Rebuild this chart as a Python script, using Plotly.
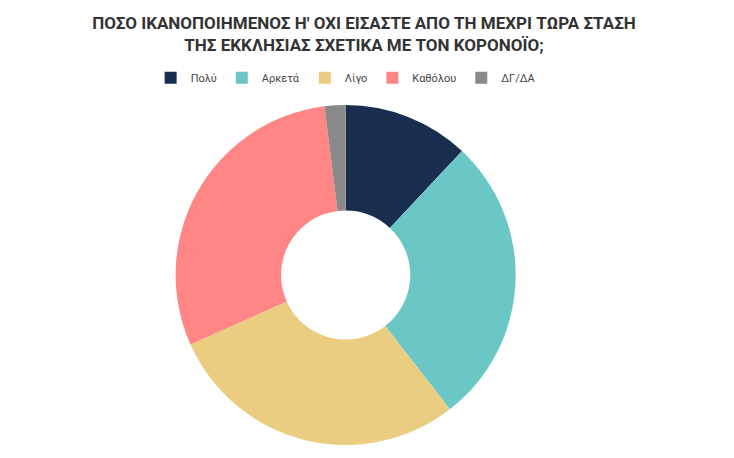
import plotly.graph_objects as go

labels = ["Πολύ", "Αρκετά", "Λίγο", "Καθόλου", "ΔΓ/ΔΑ"]
values = [12, 27.5, 28.8, 29.7, 2]
colors = ["#192d4f", "#6bc7c6", "#ebcd82", "#ff8684", "#8a8a8a"]

fig = go.Figure(go.Pie(
    labels=labels, values=values, hole=0.38, sort=False, direction="clockwise",
    rotation=0, marker=dict(colors=colors), textinfo="none",
    domain=dict(x=[0.0, 0.92], y=[0, 1])
))
fig.update_layout(
    width=734, height=458, paper_bgcolor="white",
    margin=dict(l=0, r=0, t=97, b=21),
    title=dict(text="ΠΟΣΟ ΙΚΑΝΟΠΟΙΗΜΕΝΟΣ Η' ΟΧΙ ΕΙΣΑΣΤΕ ΑΠΟ ΤΗ ΜΕΧΡΙ ΤΩΡΑ ΣΤΑΣΗ<br>ΤΗΣ ΕΚΚΛΗΣΙΑΣ ΣΧΕΤΙΚΑ ΜΕ ΤΟΝ ΚΟΡΟΝΟΪΟ;",
               x=0.485, xanchor="center", y=0.955, yanchor="top",
               font=dict(family="Roboto", size=17, color="#333333", weight="bold")),
    legend=dict(orientation="h", x=0.46, xanchor="center", y=1.08, yanchor="middle",
                font=dict(family="Roboto", size=11, color="#444444"), traceorder="normal"),
)
fig.write_html("out.html")
